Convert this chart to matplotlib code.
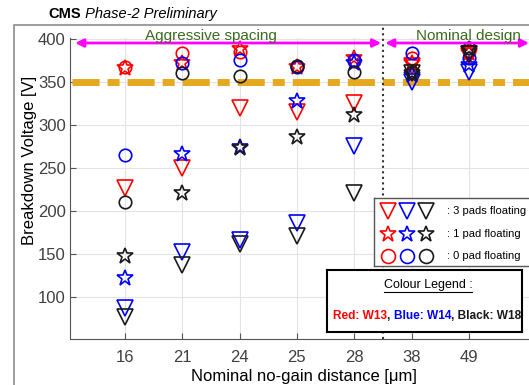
import matplotlib
matplotlib.use('Agg')
import matplotlib.pyplot as plt
from matplotlib.patches import Rectangle
from matplotlib.lines import Line2D

plt.rcParams['font.family'] = ['Liberation Sans', 'DejaVu Sans']

# nominal no-gain distance categories [um]
distances = ['16', '21', '24', '25', '28', '38', '49']

# breakdown voltages [V], W13 (red)
w13_3pads = [227, 250, 320, 315, 326, 368, 380]
w13_1pad = [366, 372, 388, 367, 378, 372, 384]
w13_0pad = [367, 384, 385, 368, 374, 378, 386]
# W14 (blue)
w14_3pads = [87, 152, 166, 186, 276, 350, 362]
w14_1pad = [122, 266, 274, 328, 372, 358, 370]
w14_0pad = [265, 372, 376, 367, 375, 384, 378]
# W18 (black)
w18_3pads = [77, 137, 161, 171, 221, 360, 382]
w18_1pad = [148, 221, 273, 286, 312, 360, 388]
w18_0pad = [210, 360, 357, 368, 362, 362, 390]

W, H = 529, 385
fig = plt.figure(figsize=(W / 100, H / 100), dpi=100)


def fx(px):
    return px / W


def fy(py):
    return 1 - py / H


# outer frame
fig.patches.append(Rectangle((fx(14), -0.05), 1.2, fy(25) + 0.05, transform=fig.transFigure,
                             fill=False, edgecolor='#8c8c8c', lw=1.2))

ax = fig.add_axes([fx(70), fy(339), 1 - fx(70), (339 - 37.5) / H])
x = list(range(len(distances)))
ax.set_xlim(-0.96, 7.05)
ax.set_ylim(51, 401.7)
ax.set_xticks(x)
ax.set_xticklabels(distances)
ax.set_yticks([100, 150, 200, 250, 300, 350, 400])
ax.tick_params(direction='in', length=4, color='#555555', labelcolor='#404040', labelsize=12)
ax.tick_params(axis='x', pad=8)
ax.tick_params(axis='y', pad=3)
ax.grid(True, color='#e3e3e3', lw=0.8)
ax.set_axisbelow(True)
for s in ['top', 'right']:
    ax.spines[s].set_visible(False)
for s in ['left', 'bottom']:
    ax.spines[s].set_color('#555555')

# threshold line
ax.plot([-0.925, 7.05], [350, 350], color='#E5A91F', lw=5,
        dashes=(3.9, 1.15, 1.73, 1.15), solid_capstyle='butt', dash_capstyle='butt', zorder=1)

series = [
    ('#ff0000', w13_3pads, w13_1pad, w13_0pad),
    ('#0000ff', w14_3pads, w14_1pad, w14_0pad),
    ('#1a1a1a', w18_3pads, w18_1pad, w18_0pad),
]
for col, tri, star, circ in series:
    ax.plot(x, tri, 'v', ms=12, mfc='none', mec=col, mew=1.2, zorder=3)
    ax.plot(x, star, '*', ms=12, mfc='none', mec=col, mew=1.2, zorder=3)
    ax.plot(x, circ, 'o', ms=9, mfc='none', mec=col, mew=1.2, zorder=3)

# region separator and arrows
ax.plot([4.5, 4.5], [51, 416], ls=':', color='#333333', lw=1.5, clip_on=False)
ax.annotate('', xy=(-0.87, 395.3), xytext=(4.47, 395.3), annotation_clip=False,
            arrowprops=dict(arrowstyle='<|-|>', color='#ff00ff', lw=2, mutation_scale=12,
                            shrinkA=0, shrinkB=0))
ax.annotate('', xy=(4.54, 395.3), xytext=(7.05, 395.3), annotation_clip=False,
            arrowprops=dict(arrowstyle='<|-|>', color='#ff00ff', lw=2, mutation_scale=12,
                            shrinkA=0, shrinkB=0))
ax.text(1.5, 404, 'Aggressive spacing', color='#3b6b1f', fontsize=11, ha='center', va='center',
        clip_on=False)
ax.text(6.0, 404, 'Nominal design', color='#3b6b1f', fontsize=11, ha='center', va='center',
        clip_on=False)

fig.text(fx(30), fy(160), 'Breakdown Voltage [V]', rotation=90, fontsize=12, ha='center', va='center')
fig.text(fx(304), fy(376), 'Nominal no-gain distance [μm]', fontsize=12, ha='center', va='center')

t1 = fig.text(fx(48), fy(14), 'CMS', fontsize=10.5, fontweight='bold', ha='left', va='center')
fig.canvas.draw()
r = fig.canvas.get_renderer()
bb = t1.get_window_extent(r)
fig.text(bb.x1 / W, fy(14), ' Phase-2 Preliminary', fontsize=10.5, style='italic', ha='left', va='center')

# marker legend
lg = fig.add_axes([fx(374), fy(266), fx(545) - fx(374), (266 - 198) / H])
lg.set_xlim(374, 545)
lg.set_ylim(266, 198)
lg.set_xticks([])
lg.set_yticks([])
for s in lg.spines.values():
    s.set_color('#555555')
    s.set_linewidth(1)
rows = [('v', 11, 211, ': 3 pads floating'), ('*', 12, 234, ': 1 pad floating'), ('o', 10, 256, ': 0 pad floating')]
for mk, ms, yy, label in rows:
    for xx, col in zip([388, 407, 426], ['#ff0000', '#0000ff', '#1a1a1a']):
        lg.plot([xx], [yy], mk, ms=ms, mfc='none', mec=col, mew=1.2)
    lg.text(447, yy, label, fontsize=8, ha='left', va='center')

# colour legend
cl = fig.add_axes([fx(327), fy(332), (522 - 327) / W, (332 - 270) / H])
cl.set_xlim(327, 522)
cl.set_ylim(332, 270)
cl.set_xticks([])
cl.set_yticks([])
for s in cl.spines.values():
    s.set_color('black')
    s.set_linewidth(1.5)
ct = cl.text(428, 285, 'Colour Legend :', fontsize=9, ha='center', va='center')
fig.canvas.draw()
cb = ct.get_window_extent(r)
cl.add_line(Line2D([cb.x0 / W, cb.x1 / W], [fy(292), fy(292)], transform=fig.transFigure,
                   color='black', lw=0.8))
xx = 333
for txt, col in [('Red: W13', '#ff0000'), (', ', '#1a1a1a'), ('Blue: W14', '#0000ff'),
                 (', Black: W18', '#1a1a1a')]:
    t = cl.text(xx, 316, txt, fontsize=8.6, fontweight='bold', color=col, ha='left', va='center')
    fig.canvas.draw()
    xx += t.get_window_extent(r).width

fig.savefig('out.png', dpi=100)
